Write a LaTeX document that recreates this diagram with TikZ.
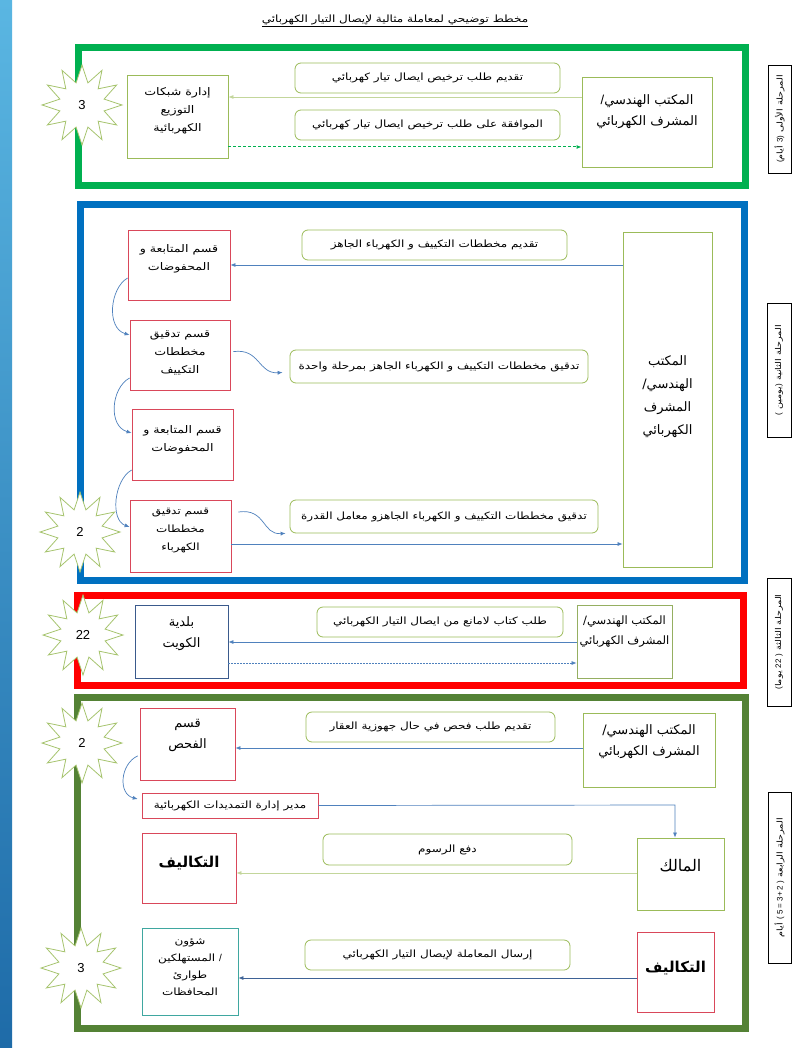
\documentclass[tikz,border=0pt]{standalone}
\usepackage{fontspec}
\setmainfont{Liberation Sans}
\newfontfamily\arabicfont[Script=Arabic]{DejaVu Sans}
\newfontfamily\arabicwide[Script=Arabic,FakeStretch=1.2]{DejaVu Sans}
\TeXXeTstate=1
\usetikzlibrary{shapes.geometric,arrows.meta}
\definecolor{gOne}{HTML}{00B050}
\definecolor{bTwo}{HTML}{0070C0}
\definecolor{rThree}{HTML}{FF0000}
\definecolor{gFour}{HTML}{548235}
\definecolor{olivec}{HTML}{9BBB59}
\definecolor{lgreen}{HTML}{C3D69B}
\definecolor{pinkred}{HTML}{D9475A}
\definecolor{arrblue}{HTML}{4F81BD}
\definecolor{navyc}{HTML}{3A5A8C}
\definecolor{tealc}{HTML}{3FA7A0}
\definecolor{starg}{HTML}{A6C46E}
\definecolor{stripTop}{HTML}{5AB6E2}
\definecolor{stripBot}{HTML}{1E6BA8}
\newcommand{\artx}[1]{{\arabicfont\beginR #1\endR}}
\newcommand{\artw}[1]{{\arabicwide\beginR #1\endR}}
\newcommand{\latpart}[1]{{\rmfamily\beginL #1\endL}}
\begin{document}
\begin{tikzpicture}[x=1pt,y=-1pt,
  frame/.style={line width=7pt},
  boxn/.style={draw, line width=0.8pt, fill=white, inner sep=0pt},
  lbl/.style={draw=olivec, line width=0.8pt, rounded corners=6pt, fill=white, inner sep=0pt, font=\fontsize{10}{12}\selectfont},
  txt/.style={align=center, inner sep=0pt},
  star12/.style={star, star points=12, star point ratio=1.75, draw=starg, fill=white, line width=0.8pt, inner sep=0pt, minimum size=80pt, font=\fontsize{13}{15}\selectfont},
  side/.style={draw=black, line width=0.6pt, fill=white, inner sep=0pt},
  sidetxt/.style={rotate=90, inner sep=0pt, font=\fontsize{8}{9}\selectfont},
  barr/.style={draw=arrblue, line width=0.7pt, -{Latex[length=5pt,width=4pt]}},
  garr/.style={draw=lgreen, line width=0.8pt, -{Latex[length=5pt,width=4pt]}},
  fsm/.style={font=\fontsize{10.5}{18}\selectfont},
  fbig/.style={font=\fontsize{13}{21}\selectfont},
]
\useasboundingbox (0,0) rectangle (794,1048);
\fill[white] (0,0) rectangle (794,1048);
\shade[top color=stripTop, bottom color=stripBot] (0,0) rectangle (12,1048);

\node[txt, font=\fontsize{10}{12}\selectfont] (title) at (395,21) {\underline{\artw{مخطط توضيحي لمعاملة مثالية لإيصال التيار الكهربائي}}};

% ---------------- Stage 1 ----------------
\draw[frame, draw=gOne] (78,48) rectangle (745,186);
\node[star12] (st1) at (82,105) {3};
\node[boxn, draw=olivec, minimum width=101pt, minimum height=83pt] (lb1) at (177.5,116.5) {};
\node[txt, fsm] (lb1t) at (177.5,111) {\artw{إدارة شبكات}\\\artw{التوزيع}\\\artw{الكهربائية}};
\node[boxn, draw=olivec, minimum width=130pt, minimum height=90pt] (rb1) at (647,122) {};
\node[txt, fbig] (rb1t) at (647,112) {\artx{المكتب الهندسي\latpart{/}}\\\artx{المشرف الكهربائي}};
\node[lbl, minimum width=265pt, minimum height=30pt] (l11) at (427.5,78) {\artw{تقديم طلب ترخيص ايصال تيار كهربائي}};
\node[lbl, minimum width=265pt, minimum height=30pt] (l12) at (427.5,125) {\artw{الموافقة على طلب ترخيص ايصال تيار كهربائي}};
\draw[garr] (rb1.west |- 0,97) -- (lb1.east |- 0,97);
\draw[draw=gOne, line width=1pt, dash pattern=on 3pt off 2pt, -{Latex[length=5pt,width=4pt]}] (lb1.east |- 0,147) -- (rb1.west |- 0,147);
\node[side, minimum width=23pt, minimum height=108pt] (sb1) at (779.5,119) {};
\node[sidetxt] (sb1t) at (sb1) {\artw{المرحلة الأولى \latpart{3)} أيام\latpart{(}}};

% ---------------- Stage 2 ----------------
\draw[frame, draw=bTwo] (80,205) rectangle (744,580);
\node[star12] (st2) at (80,532) {2};
\node[boxn, draw=pinkred, minimum width=102pt, minimum height=70pt] (a2) at (179,265) {};
\node[txt, fsm] (a2t) at (179,259) {\artw{قسم المتابعة و}\\\artw{المحفوضات}};
\node[boxn, draw=pinkred, minimum width=100pt, minimum height=70pt] (b2) at (180,355) {};
\node[txt, fsm] (b2t) at (180,353) {\artw{قسم تدقيق}\\\artw{مخططات}\\\artw{التكييف}};
\node[boxn, draw=pinkred, minimum width=101pt, minimum height=71pt] (c2) at (182.5,444.5) {};
\node[txt, fsm] (c2t) at (182.5,440) {\artw{قسم المتابعة و}\\\artw{المحفوضات}};
\node[boxn, draw=pinkred, minimum width=101pt, minimum height=72pt] (d2) at (180.5,536) {};
\node[txt, font=\fontsize{10}{18}\selectfont] (d2t) at (180.5,531) {\artw{قسم تدقيق}\\\artw{مخططات}\\\artw{الكهرباء}};
\node[boxn, draw=olivec, minimum width=89pt, minimum height=335pt] (r2) at (667.5,399.5) {};
\node[txt, font=\fontsize{13}{23}\selectfont] (r2t) at (667.5,397) {\artx{المكتب}\\\artx{الهندسي/}\\\artx{المشرف}\\\artx{الكهربائي}};
\node[lbl, minimum width=265pt, minimum height=30pt] (l21) at (434.5,245) {\artw{تقديم مخططات التكييف و الكهرباء الجاهز}};
\node[lbl, minimum width=298pt, minimum height=33pt] (l22) at (439,366.5) {\artw{تدقيق مخططات التكييف و الكهرباء الجاهز بمرحلة واحدة}};
\node[lbl, minimum width=308pt, minimum height=33pt] (l23) at (444,516.5) {\artw{تدقيق مخططات التكييف و الكهرباء الجاهزو معامل القدرة}};
\draw[barr] (r2.west |- 0,265) -- (a2.east |- 0,265);
\draw[barr] (a2.west |- 0,278) .. controls (110,288) and (106,328) .. (b2.west |- 0,335);
\draw[barr] (b2.west |- 0,378) .. controls (111,388) and (108,426) .. (c2.west |- 0,433);
\draw[barr] (c2.west |- 0,470) .. controls (114,480) and (110,520) .. (d2.west |- 0,527);
\draw[barr, shorten <=3pt, shorten >=7pt] (b2.east |- 0,352) .. controls (260,348) and (258,374) .. (l22.west |- 0,372);
\draw[barr, shorten <=7pt, shorten >=4pt] (d2.east |- 0,513) .. controls (266,508) and (262,535) .. (l23.west |- 0,533);
\draw[barr] (d2.east |- 0,544) -- (r2.west |- 0,544);
\node[side, minimum width=24pt, minimum height=134pt] (sb2) at (779,370) {};
\node[sidetxt] (sb2t) at (sb2) {\artw{المرحلة الثانية \latpart{)}يومين \latpart{(}}};

% ---------------- Stage 3 ----------------
\draw[frame, draw=rThree] (77,595) rectangle (743,685);
\node[star12] (st3) at (83,635) {22};
\node[boxn, draw=navyc, minimum width=93pt, minimum height=73pt] (k3) at (181.5,641.5) {};
\node[txt, fbig] (k3t) at (181.5,634) {\artx{بلدية}\\\artx{الكويت}};
\node[boxn, draw=olivec!80!gray, minimum width=95pt, minimum height=73pt] (r3) at (624.5,641.5) {};
\node[txt, font=\fontsize{11.5}{20}\selectfont] (r3t) at (624.5,632) {\artx{المكتب الهندسي/}\\\artx{المشرف الكهربائي}};
\node[lbl, minimum width=246pt, minimum height=30pt] (l31) at (440,622) {\artw{طلب كتاب لامانع من ايصال التيار الكهربائي}};
\draw[barr] (r3.west |- 0,642) -- (k3.east |- 0,642);
\draw[barr, dash pattern=on 1.5pt off 1.5pt] (k3.east |- 0,663) -- (r3.west |- 0,663);
\node[side, minimum width=24pt, minimum height=128pt] (sb3) at (779,642) {};
\node[sidetxt] (sb3t) at (sb3) {\artw{المرحلة الثالثة \latpart{)} \latpart{22} يوما\latpart{(}}};

% ---------------- Stage 4 ----------------
\draw[frame, draw=gFour] (77,697) rectangle (745,1028);
\node[star12] (st4a) at (82,743) {2};
\node[star12] (st4b) at (81,968) {3};
\node[boxn, draw=pinkred, minimum width=95pt, minimum height=72pt] (f4) at (187.5,744) {};
\node[txt, fbig] (f4t) at (187.5,735) {\artx{قسم}\\\artx{الفحص}};
\node[boxn, draw=olivec, minimum width=132pt, minimum height=74pt] (r4) at (649,750) {};
\node[txt, fbig] (r4t) at (649,742) {\artx{المكتب الهندسي/}\\\artx{المشرف الكهربائي}};
\node[lbl, minimum width=249pt, minimum height=30pt] (l41) at (430.5,727) {\artw{تقديم طلب فحص في حال جهوزية  العقار}};
\node[boxn, draw=pinkred, minimum width=176pt, minimum height=25pt, font=\fontsize{10}{12}\selectfont] (m4) at (230,805.5) {\artw{مدير إدارة التمديدات الكهربائية}};
\draw[barr] (r4.west |- 0,748) -- (f4.east |- 0,748);
\draw[barr, shorten <=2pt, shorten >=4pt] (f4.west |- 0,755) .. controls (120,764) and (118,794) .. (m4.west |- 0,800);
\coordinate (bend4) at (675,805);
\node[boxn, draw=pinkred, minimum width=94pt, minimum height=70pt] (t41) at (189,868) {};
\node[txt, font=\fontsize{15}{17}\selectfont\bfseries] (t41t) at (189,863) {\artx{التكاليف}};
\node[boxn, draw=olivec, minimum width=87pt, minimum height=72pt] (o4) at (680.5,874) {};
\node[txt, font=\fontsize{16}{18}\selectfont] (o4t) at (680.5,866) {\artx{المالك}};
\draw[barr] (m4.east) -- (bend4) -- (bend4 |- o4.north);
\node[lbl, minimum width=249pt, minimum height=31pt] (l42) at (447.5,849.5) {\artw{دفع الرسوم}};
\draw[garr] (o4.west |- 0,873) -- (t41.east |- 0,873);
\node[boxn, draw=pinkred, minimum width=77pt, minimum height=80pt] (t42) at (675.5,972) {};
\node[txt, font=\fontsize{15}{17}\selectfont\bfseries] (t42t) at (675.5,968) {\artx{التكاليف}};
\node[boxn, draw=tealc, minimum width=96pt, minimum height=87pt] (s4) at (190,971.5) {};
\node[txt, font=\fontsize{10}{17}\selectfont] (s4t) at (190,967) {\artw{شؤون}\\\artw{\latpart{/} المستهلكين}\\\artw{طوارئ}\\\artw{المحافظات}};
\node[lbl, minimum width=265pt, minimum height=30pt] (l43) at (437.5,955) {\artw{إرسال المعاملة لإيصال التيار الكهربائي}};
\draw[barr, draw=navyc!80!arrblue] (t42.west |- 0,978) -- (s4.east |- 0,978);
\node[side, minimum width=23pt, minimum height=171pt] (sb4) at (779.5,877.5) {};
\node[sidetxt] (sb4t) at (sb4) {\artw{المرحلة الرابعة \latpart{( 5 = 3+ 2 )} أيام}};
\end{tikzpicture}
\end{document}
